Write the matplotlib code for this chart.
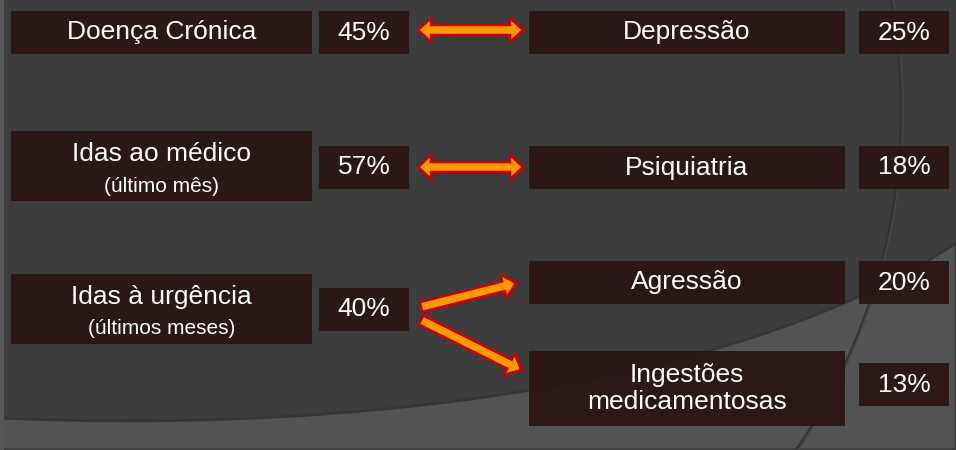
#!/usr/bin/env python3
"""Diagrama: factores (esquerda) ligados a consequências (direita), com percentagens."""

import numpy as np
import matplotlib
matplotlib.use("Agg")
import matplotlib.pyplot as plt
from matplotlib.patches import Rectangle, Polygon, PathPatch, Arc
from matplotlib.path import Path

plt.rcParams["font.family"] = ["Liberation Sans", "DejaVu Sans"]

# --- dados ---
left_titles = ["Doença Crónica", "Idas ao médico", "Idas à urgência"]
left_subtitles = ["", "(último mês)", "(últimos meses)"]
left_pcts = ["45%", "57%", "40%"]

right_titles = ["Depressão", "Psiquiatria", "Agressão", "Ingestões\nmedicamentosas"]
right_pcts = ["25%", "18%", "20%", "13%"]

# --- layout (pixels, origem no canto superior esquerdo) ---
W, H = 956, 450
BG = "#3d3d3d"
BG_LIGHT = "#535353"
BOX = "#2a1614"
ORANGE = "#ff9900"
RED = "#cc0000"
FS = 19
FS_SUB = 15

left_box_x = (11, 312)
left_pct_x = (319, 409)
right_box_x = (529, 845)
right_pct_x = (859, 949)

left_box_y = [(11, 54), (131, 201), (274, 344)]
left_pct_y = [(11, 54), (146, 189), (288, 331)]
right_box_y = [(11, 54), (146, 189), (261, 304), (351, 426)]
right_pct_y = [(11, 54), (146, 189), (261, 304), (363, 406)]

# setas: (cauda, ponta, dupla)
arrows = [
    ((418, 30), (523, 30), True),
    ((418, 167), (523, 167), True),
    ((421, 307), (516, 283), False),
    ((421, 320), (521, 370), False),
]


def arrow_polygon(p0, p1, body=10, head_w=24, head_l=13, double=False):
    p0 = np.asarray(p0, float)
    p1 = np.asarray(p1, float)
    d = p1 - p0
    L = np.hypot(*d)
    u = d / L
    n = np.array([-u[1], u[0]])
    b, h = body / 2, head_w / 2
    s0 = head_l if double else 0.0
    s1 = L - head_l
    pts = []
    if double:
        pts += [p0, p0 + u * s0 + n * h, p0 + u * s0 + n * b]
    else:
        pts += [p0 + n * b]
    pts += [p0 + u * s1 + n * b, p0 + u * s1 + n * h, p1,
            p0 + u * s1 - n * h, p0 + u * s1 - n * b]
    if double:
        pts += [p0 + u * s0 - n * b, p0 + u * s0 - n * h]
    else:
        pts += [p0 - n * b]
    return np.array(pts)


def draw_box(ax, xr, yr):
    ax.add_patch(Rectangle((xr[0], yr[0]), xr[1] - xr[0], yr[1] - yr[0],
                           facecolor=BOX, edgecolor="none", alpha=0.95, zorder=3))


fig = plt.figure(figsize=(W / 100, H / 100), dpi=100)
ax = fig.add_axes([0, 0, 1, 1])
ax.set_xlim(0, W)
ax.set_ylim(H, 0)
ax.axis("off")
fig.patch.set_facecolor(BG)

# fundo: região clara inferior, faixa esquerda e arco à direita
verts = [(0, 418), (300, 432), (720, 400), (956, 243), (956, 450), (0, 450), (0, 418)]
codes = [Path.MOVETO, Path.CURVE4, Path.CURVE4, Path.CURVE4,
         Path.LINETO, Path.LINETO, Path.CLOSEPOLY]
ax.add_patch(PathPatch(Path(verts, codes), facecolor=BG_LIGHT, edgecolor="#363636",
                       linewidth=2, zorder=1))
ax.add_patch(Rectangle((0, 0), 4, H, facecolor="#575757", edgecolor="none", zorder=1))
ax.add_patch(Arc((298, 110), 2 * 603, 2 * 603, theta1=-12, theta2=36,
                 color="#343434", linewidth=1.5, zorder=2))
ax.add_patch(Arc((298, 110), 2 * 605, 2 * 605, theta1=-12, theta2=36,
                 color="#484848", linewidth=1, zorder=2))

# caixas da esquerda
for i, (title, sub, pct) in enumerate(zip(left_titles, left_subtitles, left_pcts)):
    draw_box(ax, left_box_x, left_box_y[i])
    draw_box(ax, left_pct_x, left_pct_y[i])
    cx = sum(left_box_x) / 2
    y0, y1 = left_box_y[i]
    if sub:
        ax.text(cx, y0 + 23, title, color="white", fontsize=FS,
                ha="center", va="center", zorder=4)
        ax.text(cx, y0 + 55, sub, color="white", fontsize=FS_SUB,
                ha="center", va="center", zorder=4)
    else:
        ax.text(cx, (y0 + y1) / 2, title, color="white", fontsize=FS,
                ha="center", va="center", zorder=4)
    ax.text(sum(left_pct_x) / 2, sum(left_pct_y[i]) / 2, pct, color="white",
            fontsize=FS, ha="center", va="center", zorder=4)

# caixas da direita
for i, (title, pct) in enumerate(zip(right_titles, right_pcts)):
    draw_box(ax, right_box_x, right_box_y[i])
    draw_box(ax, right_pct_x, right_pct_y[i])
    ax.text(sum(right_box_x) / 2, sum(right_box_y[i]) / 2, title, color="white",
            fontsize=FS, ha="center", va="center", linespacing=1.2, zorder=4)
    ax.text(sum(right_pct_x) / 2, sum(right_pct_y[i]) / 2, pct, color="white",
            fontsize=FS, ha="center", va="center", zorder=4)

# setas
for p0, p1, double in arrows:
    ax.add_patch(Polygon(arrow_polygon(p0, p1, double=double), closed=True,
                         facecolor=ORANGE, edgecolor=RED, linewidth=1.8,
                         joinstyle="miter", zorder=5))

fig.savefig("out.png", dpi=100, facecolor=BG)
plt.close(fig)
